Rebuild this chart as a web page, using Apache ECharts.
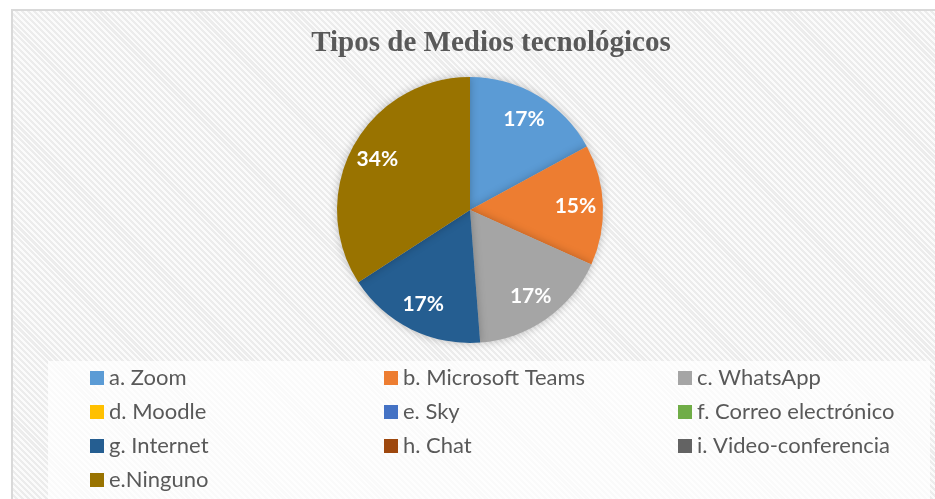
<!DOCTYPE html>
<html>
<head>
<meta charset="utf-8">
<script src="https://cdn.jsdelivr.net/npm/echarts@6/dist/echarts.min.js"></script>
<style>
  html, body { margin: 0; padding: 0; background: #fff; }
  #frame {
    position: absolute; left: 11px; top: 9px; width: 940px; height: 500px;
    border-left: 2px solid #d9d9d9; border-top: 2px solid #d9d9d9;
    background: repeating-linear-gradient(45deg, #fbfbfb 0px, #fbfbfb 2px, #ececec 2px, #ececec 4.2px);
  }
  #chart { position: absolute; left: 0; top: 0; width: 935px; height: 499px; }
</style>
</head>
<body>
<div id="frame"></div>
<div id="chart"></div>
<script>
// datos (conteos)
var categorias = ["a. Zoom", "b. Microsoft Teams", "c. WhatsApp", "d. Moodle", "e. Sky",
  "f. Correo electrónico", "g. Internet", "h. Chat", "i. Video-conferencia", "e.Ninguno"];
var valores = [7, 6, 7, 0, 0, 0, 7, 0, 0, 14];
var colores = ["#5b9bd5", "#ed7d31", "#a5a5a5", "#ffc000", "#4472c4",
  "#70ad47", "#255e91", "#9e480e", "#636363", "#997300"];
var columnas = [
  ["a. Zoom", "d. Moodle", "g. Internet", "e.Ninguno"],
  ["b. Microsoft Teams", "e. Sky", "h. Chat"],
  ["c. WhatsApp", "f. Correo electrónico", "i. Video-conferencia"]
];

var chart = echarts.init(document.getElementById("chart"));

var datos = categorias.map(function (c, i) {
  return { name: c, value: valores[i], itemStyle: { color: colores[i] } };
});

function etiqueta(p) {
  return p.value === 0 ? "" : Math.round(p.percent) + "%";
}

var leyendas = columnas.map(function (col, i) {
  return {
    data: col,
    orient: "vertical",
    left: [90, 384, 678][i],
    top: 367,
    height: 130,
    padding: 0,
    itemWidth: 14,
    itemHeight: 14,
    itemGap: 12,
    icon: "rect",
    selectedMode: false,
    textStyle: { color: "#595959", fontSize: 22, lineHeight: 22, fontFamily: "Lato" }
  };
});

var option = {
  backgroundColor: "transparent",
  animation: false,
  title: {
    text: "Tipos de Medios tecnológicos",
    left: 486,
    textAlign: "center",
    top: 24,
    textStyle: { fontFamily: "Liberation Serif", fontWeight: "bold", fontSize: 29, color: "#595959" }
  },
  legend: leyendas,
  graphic: [{
    type: "rect",
    z: -1,
    shape: { x: 48, y: 361, width: 882, height: 140 },
    style: { fill: "rgba(255,255,255,0.75)" }
  }],
  series: [
    {
      type: "pie",
      center: [470, 210],
      radius: 133,
      data: datos,
      label: { show: false },
      labelLine: { show: false },
      emphasis: { disabled: true },
      itemStyle: { borderWidth: 0, shadowBlur: 8, shadowColor: "rgba(0,0,0,0.25)" }
    },
    {
      type: "pie",
      center: [470, 210],
      radius: [72, 133],
      silent: true,
      data: categorias.map(function (c, i) { return { name: c, value: valores[i] }; }),
      itemStyle: { color: "transparent" },
      label: {
        show: true,
        position: "inside",
        formatter: etiqueta,
        color: "#fff",
        fontSize: 21,
        fontWeight: "bold",
        fontFamily: "Lato"
      },
      labelLine: { show: false },
      emphasis: { disabled: true }
    }
  ]
};

chart.setOption(option);
</script>
</body>
</html>
